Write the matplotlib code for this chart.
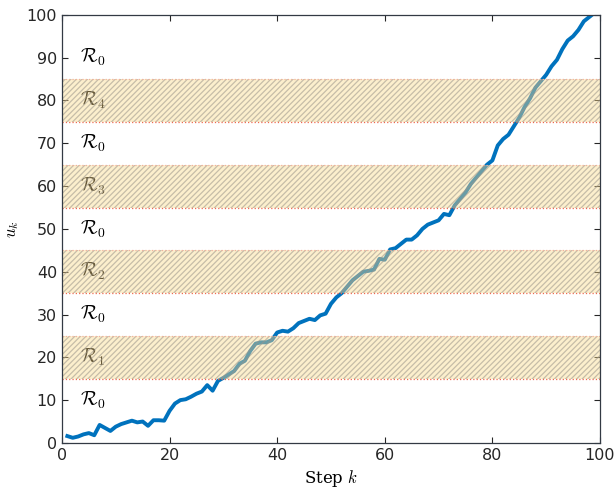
import numpy as np
import matplotlib.pyplot as plt

# trajectory of u_k over the steps
steps = np.arange(1, 100)
u = [1.6, 1.2, 1.5, 2.0, 2.3, 1.8, 4.2, 3.5, 2.8, 3.8,
     4.4, 4.8, 5.2, 4.8, 5.0, 4.0, 5.3, 5.3, 5.2, 7.5,
     9.2, 10.0, 10.2, 10.8, 11.5, 12.0, 13.5, 12.2, 14.5, 15.2,
     16.0, 16.8, 18.5, 19.2, 21.5, 23.2, 23.5, 23.5, 24.0, 25.8,
     26.2, 26.0, 26.8, 28.0, 28.5, 29.0, 28.7, 29.8, 30.2, 32.5,
     34.0, 35.0, 36.5, 38.0, 39.0, 40.0, 40.2, 40.5, 43.0, 42.8,
     45.2, 45.5, 46.5, 47.5, 47.5, 48.5, 50.0, 51.0, 51.5, 52.0,
     53.5, 53.2, 55.5, 57.0, 58.5, 60.5, 62.0, 63.5, 65.0, 66.0,
     69.5, 71.0, 72.0, 74.0, 76.0, 78.5, 80.5, 83.0, 84.5, 86.0,
     88.0, 89.5, 92.0, 94.0, 95.0, 96.5, 98.5, 99.5, 100.5]

# hatched regions R_1..R_4
band_lo = [15, 35, 55, 75]
band_hi = [25, 45, 65, 85]
band_names = [r'$\mathcal{R}_1$', r'$\mathcal{R}_2$', r'$\mathcal{R}_3$', r'$\mathcal{R}_4$']
free_y = [10, 30, 50, 70, 90]

plt.rcParams['mathtext.fontset'] = 'cm'
plt.rcParams['hatch.linewidth'] = 0.9

fig = plt.figure(figsize=(6.16, 4.96), dpi=100)
ax = fig.add_axes([0.1006, 0.107, 0.8734, 0.863])

ax.plot(steps, u, color='#0072BD', linewidth=2.8, zorder=2)

for lo, hi, name in zip(band_lo, band_hi, band_names):
    ax.text(3.3, (lo + hi) / 2, name, fontsize=14, color='black', va='center', ha='left', zorder=1)
    # translucent fill, then hatch on top
    ax.axhspan(lo, hi, facecolor='#f9d98a', alpha=0.42, edgecolor='none', zorder=4)
    ax.axhspan(lo, hi, facecolor='none', edgecolor='#9a948a', linewidth=0, hatch='//////', alpha=0.55, zorder=5)
    ax.axhline(lo, color='#ee6a50', linestyle=':', linewidth=0.9, zorder=6)
    ax.axhline(hi, color='#f3b0a0', linestyle=':', linewidth=0.9, zorder=6)

for y in free_y:
    ax.text(3.3, y, r'$\mathcal{R}_0$', fontsize=14, color='black', va='center', ha='left')

ax.set_xlim(0, 100)
ax.set_ylim(0, 100)
ax.set_xticks(np.arange(0, 101, 20))
ax.set_yticks(np.arange(0, 101, 10))
ax.tick_params(direction='in', top=True, right=True, length=4, labelsize=11.5, colors='#262626')
for s in ax.spines.values():
    s.set_color('#333a44')
    s.set_linewidth(0.9)
    s.set_zorder(7)

ax.set_xlabel(r'Step $k$', fontsize=12, family='serif')
ax.set_ylabel(r'$u_k$', fontsize=12)

fig.savefig('out.png', dpi=100)
